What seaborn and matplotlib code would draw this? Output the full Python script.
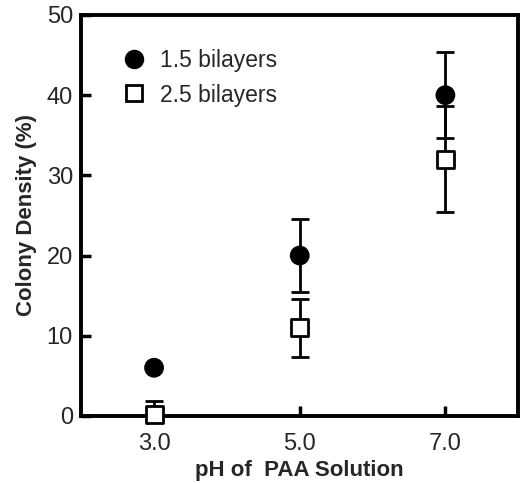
import numpy as np
import pandas as pd
import seaborn as sns
import matplotlib
matplotlib.use("Agg")
import matplotlib.pyplot as plt

# values
ph = [3.0, 5.0, 7.0]
density_15 = [6.0, 20.0, 40.0]
err_15 = [0.0, 4.5, 5.4]
density_25 = [0.2, 11.0, 32.0]
err_25 = [1.7, 3.6, 6.6]
series_names = ["1.5 bilayers", "2.5 bilayers"]
x_ticks = [3.0, 5.0, 7.0]
x_tick_labels = ["3.0", "5.0", "7.0"]
y_ticks = [0, 10, 20, 30, 40, 50]

sns.set_style("ticks")
plt.rcParams["font.family"] = ["Liberation Sans", "DejaVu Sans"]

df = pd.DataFrame({
	"ph": ph * 2,
	"density": density_15 + density_25,
	"err": err_15 + err_25,
	"series": [series_names[0]] * 3 + [series_names[1]] * 3,
})

fig = plt.figure(figsize=(5.24, 4.83), dpi=100)
ax = fig.add_axes([0.155, 0.139, 0.834, 0.830])

# error bars first, markers on top
for name in series_names:
	sub = df[(df["series"] == name) & (df["err"] > 0)]
	ax.errorbar(sub["ph"], sub["density"], yerr=sub["err"], fmt="none",
		ecolor="black", elinewidth=2.0, capsize=6.8, capthick=2.0, zorder=2)

sns.scatterplot(data=df, x="ph", y="density", hue="series", style="series",
	markers={series_names[0]: "o", series_names[1]: "s"},
	palette={series_names[0]: "black", series_names[1]: "white"},
	s=150, edgecolor="black", linewidth=2.0, ax=ax, zorder=3, clip_on=False)

# fix the legend: filled circle, open square
handles = [
	plt.Line2D([], [], marker="o", ls="none", ms=12, mfc="black", mec="black", mew=2),
	plt.Line2D([], [], marker="s", ls="none", ms=11.5, mfc="white", mec="black", mew=2),
]
ax.legend(handles, series_names, loc="upper left", bbox_to_anchor=(0.094, 0.915),
	frameon=False, fontsize=16.5, borderpad=0, handlelength=1.0,
	handletextpad=0.65, labelspacing=0.5, borderaxespad=0)

ax.set_xlim(2, 8)
ax.set_ylim(0, 50)
ax.set_xticks(x_ticks)
ax.set_xticklabels(x_tick_labels)
ax.set_yticks(y_ticks)
ax.tick_params(axis="both", direction="in", length=7, width=2.5, labelsize=17, color="black")
ax.tick_params(axis="x", pad=12)
ax.tick_params(axis="y", pad=6)
for sp in ax.spines.values():
	sp.set_linewidth(2.8)
	sp.set_color("black")

ax.set_xlabel("pH of  PAA Solution", fontsize=16, fontweight="bold", labelpad=4)
ax.set_ylabel("Colony Density (%)", fontsize=16, fontweight="bold", labelpad=7)

fig.savefig("out.png", dpi=100)
